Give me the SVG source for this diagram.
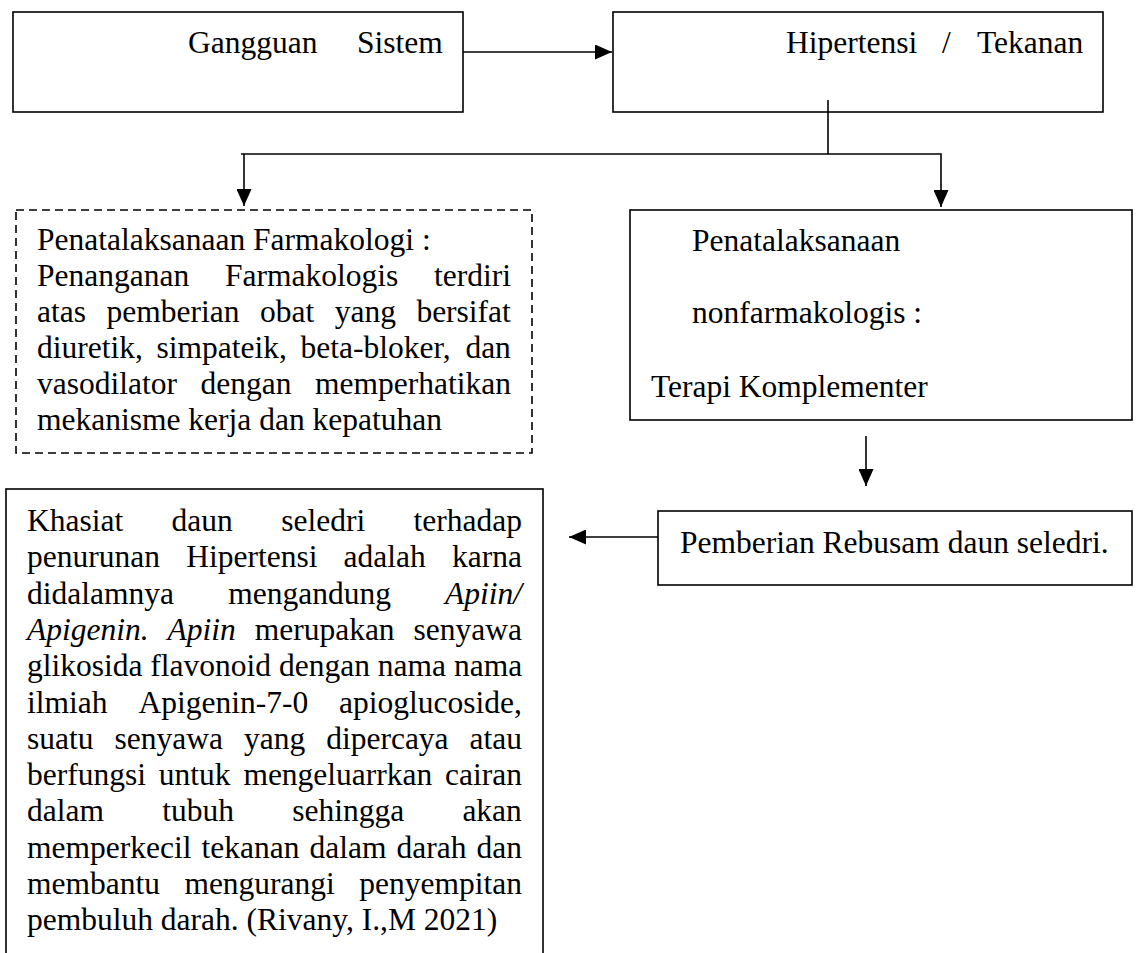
<svg xmlns="http://www.w3.org/2000/svg" width="1138" height="953" viewBox="0 0 1138 953">
<style>
text { font-family: "Liberation Serif", "Times New Roman", serif; font-size: 31.5px; fill: #000; }
.box { fill: #fff; stroke: #000; stroke-width: 1.6; }
.dash { fill: #fff; stroke: #000; stroke-width: 1.6; stroke-dasharray: 8 5; }
.conn { fill: none; stroke: #000; stroke-width: 1.6; }
.it { font-style: italic; }
</style>
<defs>
<marker id="ah" markerUnits="userSpaceOnUse" markerWidth="17" markerHeight="15" refX="17" refY="7.5" orient="auto">
<path d="M0,0 L17,7.5 L0,15 z" fill="#000"/>
</marker>
</defs>
<rect width="1138" height="953" fill="#fff"/>

<g id="node-gangguan">
<rect class="box" x="13" y="12" width="450" height="100"/>
<text y="53"><tspan x="188">Gangguan</tspan><tspan x="357">Sistem</tspan></text>
</g>

<g id="node-hipertensi">
<rect class="box" x="613" y="12" width="490" height="100"/>
<text y="53"><tspan x="786">Hipertensi</tspan><tspan x="942">/</tspan><tspan x="977">Tekanan</tspan></text>
</g>

<g id="node-farmakologi">
<rect class="dash" x="16" y="210" width="516" height="243"/>
<text x="37" y="250">Penatalaksanaan Farmakologi :</text>
<text y="286"><tspan x="37">Penanganan</tspan><tspan x="225">Farmakologis</tspan><tspan x="434">terdiri</tspan></text>
<text y="322"><tspan x="37">atas</tspan><tspan x="106.5">pemberian</tspan><tspan x="260">obat</tspan><tspan x="334.7">yang</tspan><tspan x="416.4">bersifat</tspan></text>
<text y="358"><tspan x="37">diuretik,</tspan><tspan x="156.5">simpateik,</tspan><tspan x="300.5">beta-bloker,</tspan><tspan x="465.4">dan</tspan></text>
<text y="394"><tspan x="37">vasodilator</tspan><tspan x="200.5">dengan</tspan><tspan x="315">memperhatikan</tspan></text>
<text x="37" y="430">mekanisme kerja dan kepatuhan</text>
</g>

<g id="node-nonfarmakologi">
<rect class="box" x="630" y="210" width="502" height="210"/>
<text x="692" y="251">Penatalaksanaan</text>
<text x="692" y="323">nonfarmakologis :</text>
<text x="651" y="397">Terapi Komplementer</text>
</g>

<g id="node-pemberian">
<rect class="box" x="658" y="511" width="474" height="74"/>
<text x="680" y="553">Pemberian Rebusam daun seledri.</text>
</g>

<g id="node-khasiat">
<rect class="box" x="6" y="489" width="537" height="480"/>
<text y="531"><tspan x="27">Khasiat</tspan><tspan x="171.6">daun</tspan><tspan x="281.2">seledri</tspan><tspan x="413.6">terhadap</tspan></text>
<text y="567.3"><tspan x="27">penurunan</tspan><tspan x="186.2">Hipertensi</tspan><tspan x="343.6">adalah</tspan><tspan x="452">karna</tspan></text>
<text y="603.6"><tspan x="27">didalamnya</tspan><tspan x="228.2">mengandung</tspan><tspan x="445" class="it">Apiin/</tspan></text>
<text y="639.9"><tspan x="27" class="it">Apigenin.</tspan><tspan x="167.5" class="it">Apiin</tspan><tspan x="254.7">merupakan</tspan><tspan x="413.6">senyawa</tspan></text>
<text x="27" y="676.2">glikosida flavonoid dengan nama nama</text>
<text y="712.5"><tspan x="27">ilmiah</tspan><tspan x="138.5">Apigenin-7-0</tspan><tspan x="339.1">apioglucoside,</tspan></text>
<text y="748.8"><tspan x="27">suatu</tspan><tspan x="114.5">senyawa</tspan><tspan x="244">yang</tspan><tspan x="326.2">dipercaya</tspan><tspan x="469.6">atau</tspan></text>
<text y="785.1"><tspan x="27">berfungsi</tspan><tspan x="158.8">untuk</tspan><tspan x="243.4">mengeluarrkan</tspan><tspan x="445.1">cairan</tspan></text>
<text y="821.4"><tspan x="27">dalam</tspan><tspan x="162.2">tubuh</tspan><tspan x="292.2">sehingga</tspan><tspan x="462.4">akan</tspan></text>
<text y="857.7"><tspan x="27">memperkecil</tspan><tspan x="201.5">tekanan</tspan><tspan x="309.5">dalam</tspan><tspan x="396.5">darah</tspan><tspan x="476.5">dan</tspan></text>
<text y="894"><tspan x="27">membantu</tspan><tspan x="184.4">mengurangi</tspan><tspan x="359.3">penyempitan</tspan></text>
<text x="27" y="930.3">pembuluh darah. (Rivany, I.,M 2021)</text>
</g>

<g id="connectors">
<line class="conn" x1="463" y1="52" x2="612" y2="52" marker-end="url(#ah)"/>
<polyline class="conn" points="828,100 828,154"/>
<polyline class="conn" points="241,154 941,154 941,207" marker-end="url(#ah)"/>
<line class="conn" x1="244" y1="154" x2="244" y2="206" marker-end="url(#ah)"/>
<line class="conn" x1="866" y1="436" x2="866" y2="486" marker-end="url(#ah)"/>
<line class="conn" x1="658" y1="537" x2="569" y2="537" marker-end="url(#ah)"/>
</g>
</svg>
